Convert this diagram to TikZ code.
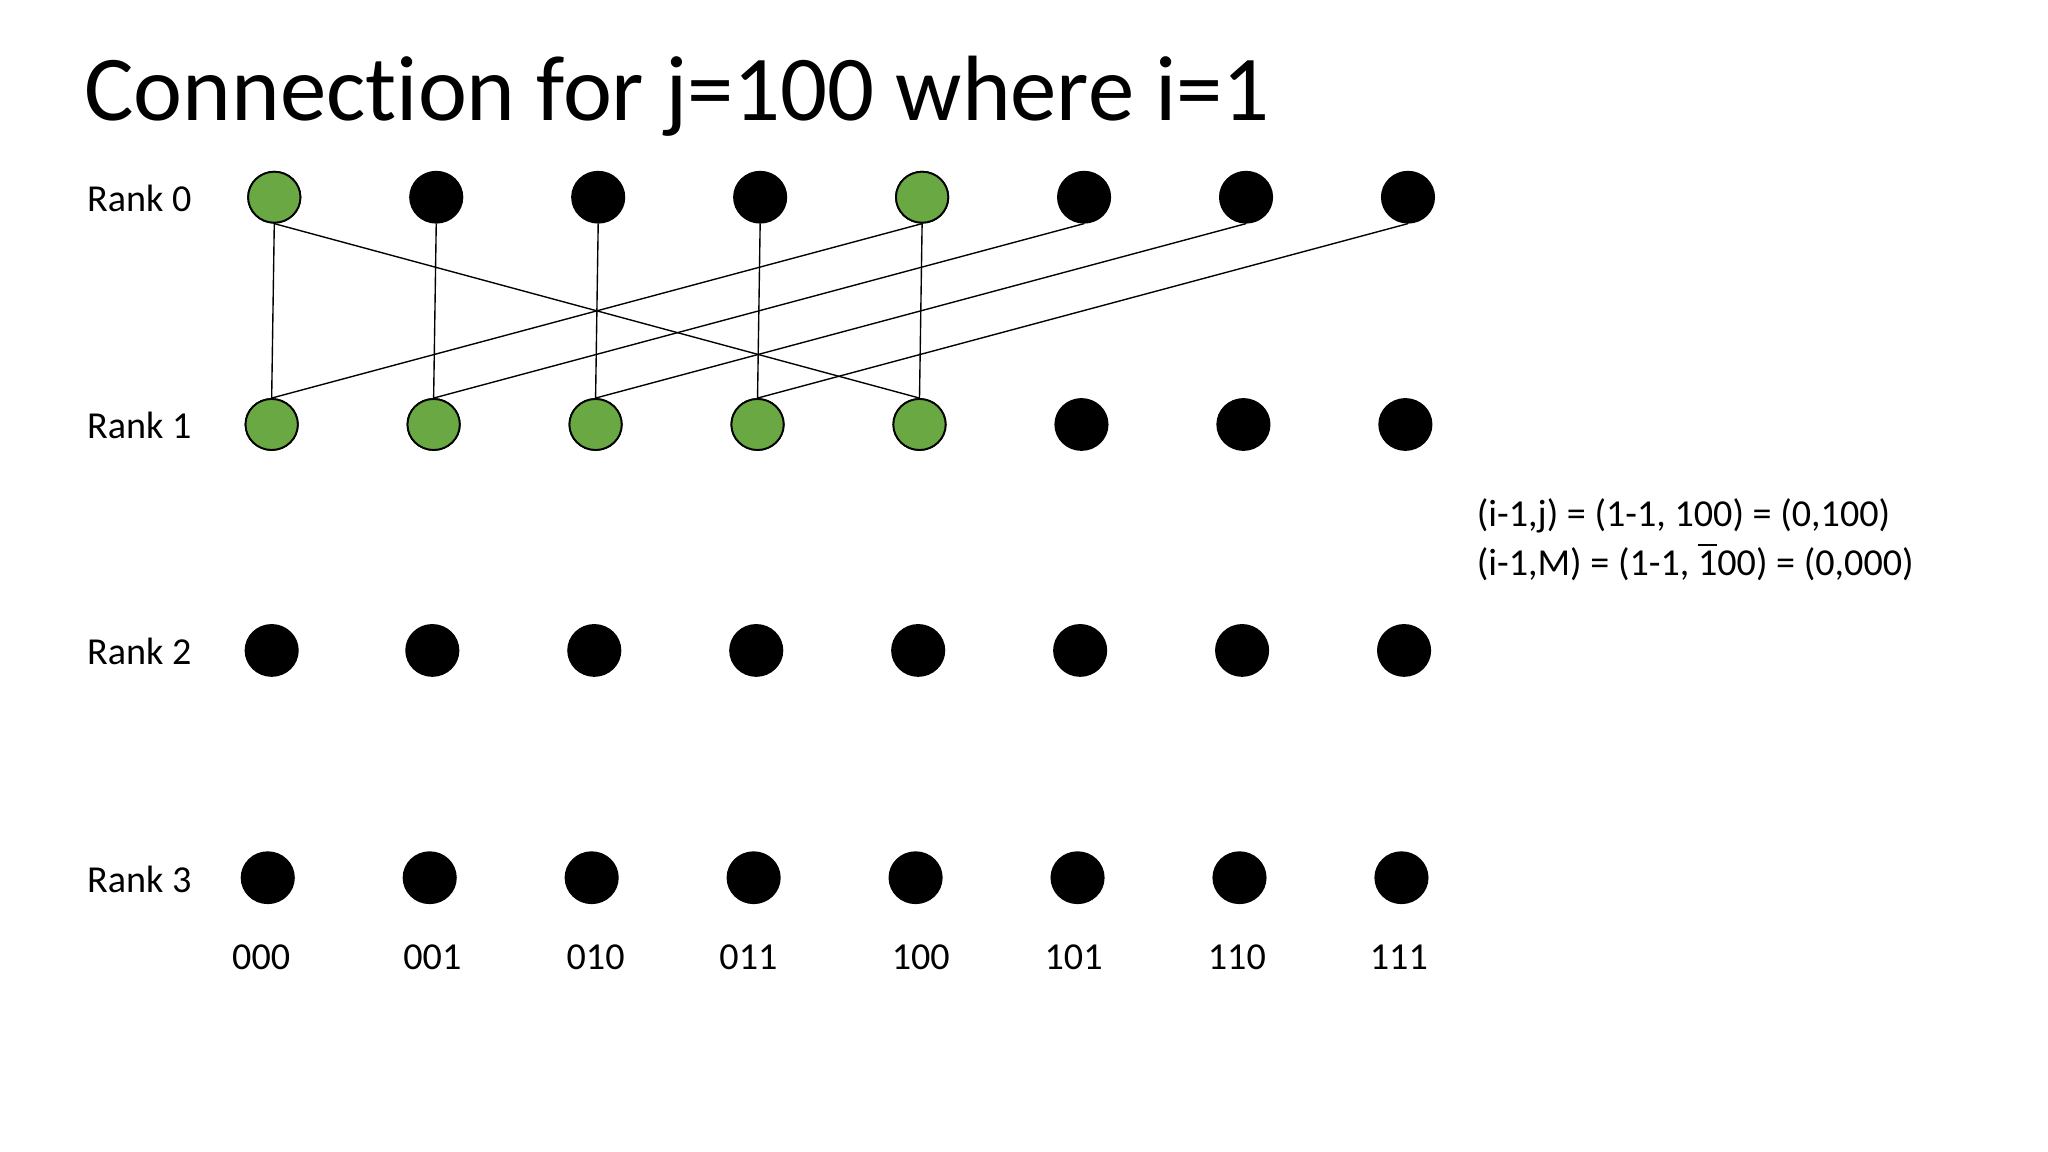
\documentclass[tikz,border=0pt]{standalone}
\usepackage{fontspec}
\setmainfont[Ligatures=NoCommon]{Carlito}
\usetikzlibrary{shapes.geometric}
\begin{document}
\begin{tikzpicture}[x=0.01cm,y=-0.01cm,
  dot/.style={ellipse,draw=black,fill=black,minimum width=0.40cm,minimum height=0.39cm,inner sep=0pt},
  gdot/.style={dot,fill=gfill},
  lbl/.style={font=\fontsize{8.3}{10}\selectfont,inner sep=0pt},
  conn/.style={draw=black,line width=0.3pt}]
\definecolor{gfill}{RGB}{106,168,68}
\useasboundingbox (0,0) rectangle (1568,882);
\node[anchor=base west,inner sep=0pt,font=\fontsize{20.2}{24}\selectfont] (title) at (64,92) {Connection for j=100 where i=1};
\foreach \r/\y in {0/151,1/325,2/498,3/672}
  \node[lbl,anchor=west] (r\r) at (66,\y+1) {Rank \r};
\foreach \i/\x in {0/210,1/334,2/458,3/582,4/706,5/830,6/954,7/1078}
  \node[dot] (a\i) at (\x,151) {};
\foreach \i/\x in {0/208,1/332,2/456,3/580,4/704,5/828,6/952,7/1076}
  \node[dot] (b\i) at (\x,325) {};
\foreach \i/\x in {0/208,1/331,2/455,3/579,4/703,5/827,6/951,7/1075}
  \node[dot] (c\i) at (\x,498) {};
\foreach \i/\x/\tx/\t in {0/205/200/000,1/329/331/001,2/453/456/010,3/577/573/011,4/701/705/100,5/825/822/101,6/949/947/110,7/1073/1071/111}{
  \node[dot] (d\i) at (\x,672) {};
  \node[lbl] (t\i) at (\tx,733) {\t};}
\foreach \n in {a0,a4,b0,b1,b2,b3,b4} \node[gdot] at (\n) {};
\foreach \i in {0,...,4} \draw[conn] (a\i.south) -- (b\i.north);
\draw[conn] (a0.south) -- (b4.north);
\draw[conn] (a4.south) -- (b0.north);
\draw[conn] (a5.south) -- (b1.north);
\draw[conn] (a6.south) -- (b2.north);
\draw[conn] (a7.south) -- (b3.north);
\node[lbl,anchor=west] (f1) at (1130,395) {(i-1,j) = (1-1, 100) = (0,100)};
\node[lbl,anchor=west] (f2) at (1130,430) {(i-1,M) = (1-1, $\overline{\mbox{1}}$00) = (0,000)};
\end{tikzpicture}
\end{document}
